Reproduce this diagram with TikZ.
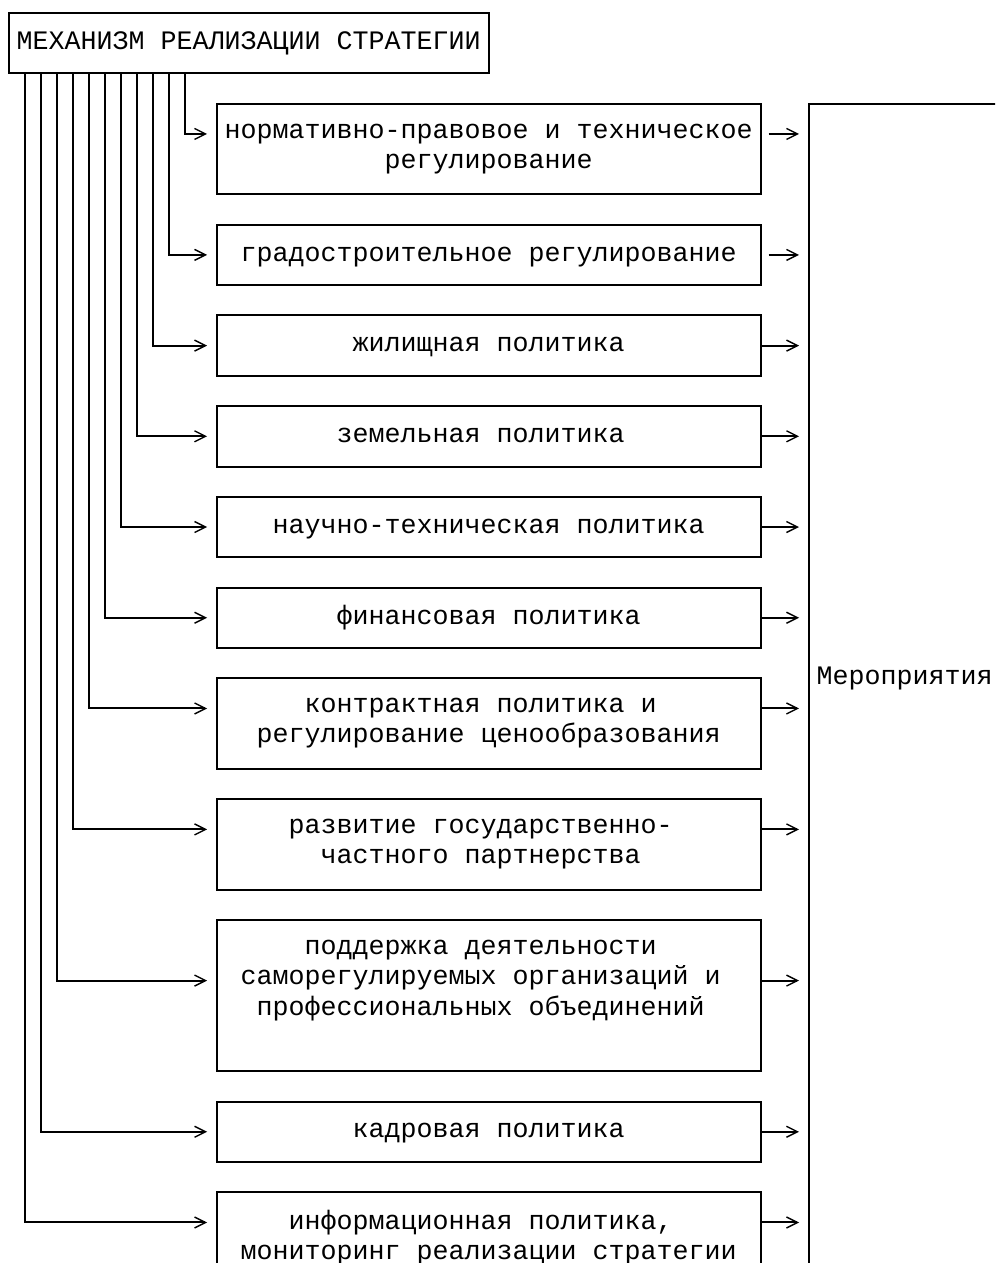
\documentclass[tikz,border=0pt]{standalone}
\usepackage{fontspec}
\setmonofont{Liberation Mono}
\usetikzlibrary{arrows.meta,positioning}
\newcommand\padch{\kern8pt}
\newcommand\rowstrut{\rule[-3pt]{0pt}{12.12pt}}
\tikzset{
  txt/.style={inner sep=0pt, outer sep=0pt, align=center,
    font=\ttfamily\fontsize{13.33pt}{15.12pt}\selectfont,
    execute at begin node=\rowstrut, execute at end node=\rowstrut},
  cell/.style={txt, draw, line width=1pt},
  stage/.style={cell, minimum width=272pt, minimum height=#1*15.12pt},
  feed/.style={line width=1pt, shorten >=4.8pt,
    -{Straight Barb[length=5.5pt,width=5.5pt,line width=0.7pt]}}
}
\begin{document}
\begin{tikzpicture}[x=8pt,y=-15.12pt]
\useasboundingbox (-0.544,-0.43) rectangle (61.65,41.34);
\clip (-0.544,-0.43) rectangle (61.65,41.34);
% head and the measures bracket
\node[cell, minimum width=240pt, minimum height=30.24pt] (head) at (15,1) {МЕХАНИЗМ РЕАЛИЗАЦИИ СТРАТЕГИИ};
\node[cell, minimum width=160pt, minimum height=680pt, anchor=north west] (acts) at (50,3) {};
\node[txt] (actsname) at (56,22) {Мероприятия};
% the stages
\node[stage=3] (norm) at (30,4.5) {нормативно-правовое и техническое\\регулирование};
\node[stage=2] (grad) at (30,8) {градостроительное регулирование};
\node[stage=2] (house) at (30,11) {жилищная политика};
\node[stage=2] (land) at (30,14) {земельная политика\padch};
\node[stage=2] (sci) at (30,17) {научно-техническая политика};
\node[stage=2] (fin) at (30,20) {финансовая политика};
\node[stage=3] (contr) at (30,23.5) {контрактная политика и\padch\\регулирование ценообразования};
\node[stage=3] (ppp) at (30,27.5) {развитие государственно-\padch\\частного партнерства\padch};
\node[stage=5] (sro) at (30,32.5) {поддержка деятельности\padch\\саморегулируемых организаций и\padch\\профессиональных объединений\padch\\\mbox{}};
\node[stage=2] (staff) at (30,37) {кадровая политика};
\node[stage=3] (info) at (30,40.5) {информационная политика,\padch\\мониторинг реализации стратегии};
% connectors
\foreach \name/\col/\row in {norm/11/4, grad/10/8, house/9/11, land/8/14, sci/7/17, fin/6/20,
    contr/5/23, ppp/4/27, sro/3/32, staff/2/37, info/1/40}
  \draw[feed] (head.south -| \col,0) |- (\name.west |- 0,\row);
\foreach \name/\row/\gap in {norm/4/4pt, grad/8/4pt, house/11/0pt, land/14/0pt, sci/17/0pt,
    fin/20/0pt, contr/23/0pt, ppp/27/0pt, sro/32/0pt, staff/37/0pt, info/40/0pt}
  \draw[feed, shorten <=\gap] (\name.east |- 0,\row) -- (acts.west |- 0,\row);
\end{tikzpicture}
\end{document}
